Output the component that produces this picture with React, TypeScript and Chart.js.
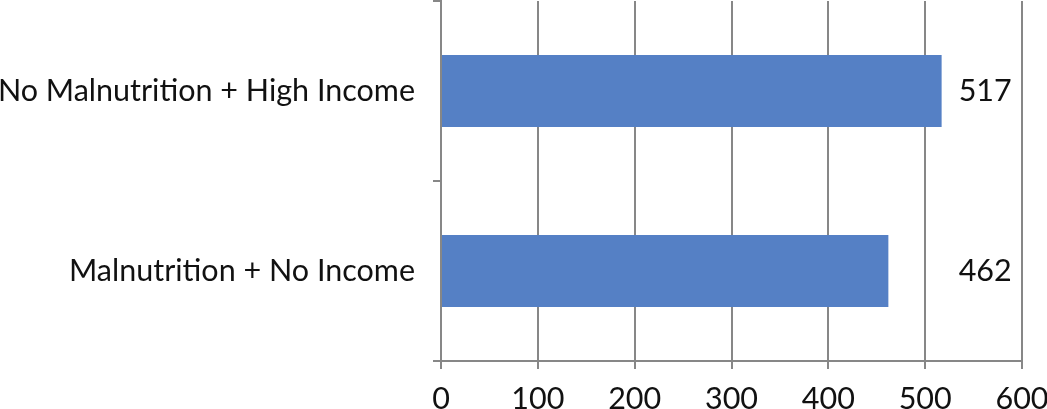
import { useEffect, useRef } from 'react';
import { Chart, registerables } from 'chart.js';

Chart.register(...registerables);

const categories = ['No Malnutrition + High Income', 'Malnutrition + No Income'];
const values = [517, 462];
const xMin = 0;
const xMax = 600;
const xStep = 100;

const barColor = '#5580C5';
const lineColor = '#878787';
const fontFamily = 'Lato, "Open Sans", sans-serif';
const fontSize = 30.5;

// value labels sit in one column, just right of the longest bar
const valueLabels = {
  id: 'valueLabels',
  afterDatasetsDraw(chart: Chart) {
    const meta = chart.getDatasetMeta(0);
    const xs = meta.data.map((bar: any) => bar.x);
    const col = Math.max(...xs) + 17;
    const ctx = chart.ctx;
    ctx.save();
    ctx.font = `${fontSize}px ${fontFamily}`;
    ctx.fillStyle = '#111';
    ctx.textAlign = 'left';
    ctx.textBaseline = 'middle';
    meta.data.forEach((bar: any, i: number) => {
      ctx.fillText(String(values[i]), col, bar.y);
    });
    ctx.restore();
  },
};

export default function App() {
  const canvasRef = useRef<HTMLCanvasElement>(null);
  const chartRef = useRef<Chart | null>(null);

  useEffect(() => {
    document.body.style.margin = '0';
    if (!canvasRef.current) return;
    if (chartRef.current) chartRef.current.destroy();
    const ctx = canvasRef.current.getContext('2d');
    if (!ctx) return;

    chartRef.current = new Chart(ctx, {
      type: 'bar',
      data: {
        labels: categories,
        datasets: [{
          data: values,
          backgroundColor: barColor,
          borderWidth: 0,
          categoryPercentage: 1,
          barPercentage: 0.4,
        }],
      },
      options: {
        indexAxis: 'y',
        animation: false,
        responsive: false,
        maintainAspectRatio: false,
        layout: { padding: { top: 1, right: 0, left: 0, bottom: 0 } },
        plugins: {
          legend: { display: false },
          tooltip: { enabled: false },
        },
        scales: {
          x: {
            min: xMin,
            max: xMax,
            ticks: {
              stepSize: xStep,
              color: '#111',
              font: { family: fontFamily, size: fontSize },
              padding: 12,
              maxRotation: 0,
            },
            grid: {
              color: lineColor,
              lineWidth: 2,
              tickLength: 8,
              drawTicks: true,
            },
            border: { color: lineColor, width: 2 },
            afterFit(scale: any) {
              scale.height = 48;
              scale.paddingLeft = 0;
              scale.paddingRight = 25;
            },
          },
          y: {
            ticks: {
              color: '#111',
              font: { family: fontFamily, size: fontSize },
              padding: 18,
            },
            grid: {
              drawOnChartArea: false,
              color: lineColor,
              lineWidth: 2,
              tickLength: 8,
            },
            border: { color: lineColor, width: 2 },
            afterFit(scale: any) {
              scale.width = 441;
              scale.paddingTop = 0;
              scale.paddingBottom = 0;
            },
          },
        },
      },
      plugins: [valueLabels],
    });

    return () => {
      if (chartRef.current) {
        chartRef.current.destroy();
        chartRef.current = null;
      }
    };
  }, []);

  return (
    <div style={{ position: 'absolute', left: 0, top: 0, width: 1047, height: 409, background: '#fff' }}>
      <canvas ref={canvasRef} width={1047} height={409} />
    </div>
  );
}
